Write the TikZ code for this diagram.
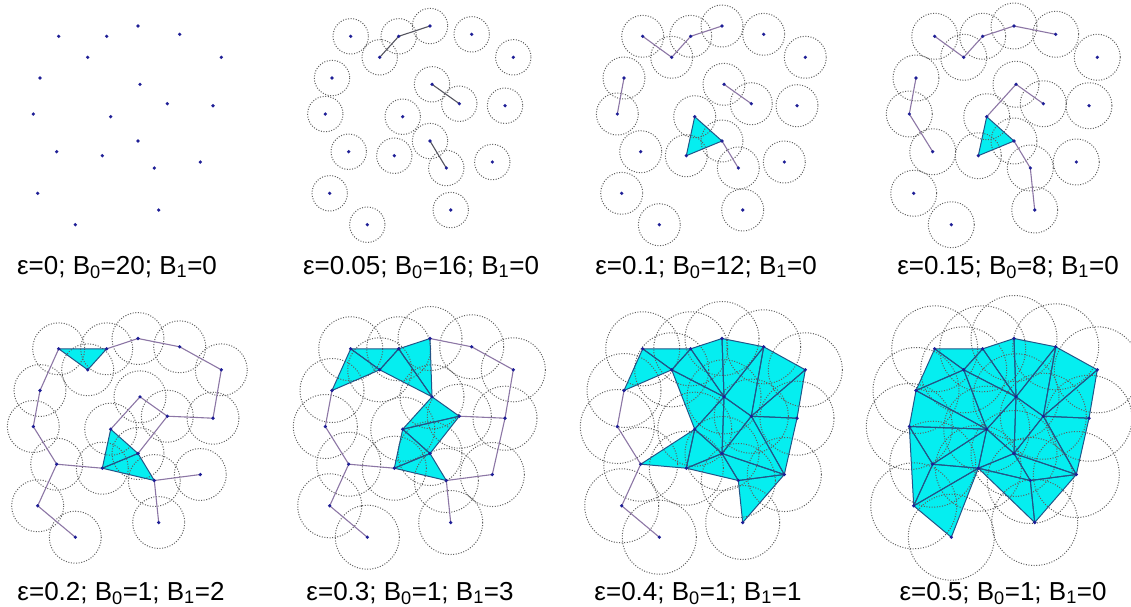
\documentclass[tikz,border=0pt]{standalone}
\usepackage{fontspec}
\setmainfont{Liberation Sans}
\definecolor{dotc}{RGB}{30,30,150}
\definecolor{ringc}{RGB}{95,95,95}
\definecolor{edgec}{RGB}{140,118,165}
\definecolor{edgedark}{RGB}{85,85,95}
\definecolor{cyanfill}{RGB}{5,238,240}
\definecolor{triedgec}{RGB}{35,85,135}
\tikzset{
  ring/.style={draw=ringc, line width=1pt, dash pattern=on 1pt off 1.6pt},
  pedge/.style={draw=edgec, line width=1.1pt},
  dedge/.style={draw=edgedark, line width=1.1pt},
  trifill/.style={fill=cyanfill},
  triedge/.style={draw=triedgec, line width=1pt, line join=round},
  ptdot/.style={fill=dotc},
  lab/.style={anchor=base, inner sep=0pt, font=\fontsize{26}{30}\selectfont}
}
\begin{document}
\begin{tikzpicture}[x=1pt,y=-1pt]
\useasboundingbox (0,0) rectangle (1131,606);
% point coordinates of every panel
\foreach \k/\ox/\oy in {1/0/0,2/292/0,3/584/0,4/876/0,5/0/312.5,6/292/312.5,7/584/312.5,8/876/312.5}{
  \foreach \i/\x/\y in {1/58.7/36.3,2/106.7/36.3,3/138/26,4/179.7/34.3,5/87.7/57.3,
    6/221.3/57.3,7/40/78,8/140/84.3,9/167.3/103.7,10/213/105.7,11/33.3/114,
    12/110.7/116.7,13/138/141,14/56.7/151.7,15/102.3/155.7,16/154.3/168,
    17/200.3/162,18/37.7/193.3,19/158.7/210,20/75.3/224.7}{
    \coordinate (p\k-\i) at (\x+\ox,\y+\oy);
  }
}
% ---------- triangle fills ----------
\foreach \a/\b/\c in {12/13/15}{\fill[trifill] (p3-\a) -- (p3-\b) -- (p3-\c) -- cycle;}
\foreach \a/\b/\c in {12/13/15}{\fill[trifill] (p4-\a) -- (p4-\b) -- (p4-\c) -- cycle;}
\foreach \a/\b/\c in {1/2/5,12/13/15,13/15/16}{\fill[trifill] (p5-\a) -- (p5-\b) -- (p5-\c) -- cycle;}
\foreach \a/\b/\c in {1/5/7,1/2/5,2/5/8,2/3/8,8/9/12,9/12/13,12/13/15,13/15/16}{\fill[trifill] (p6-\a) -- (p6-\b) -- (p6-\c) -- cycle;}
\foreach \a/\b/\c in {1/5/7,1/2/5,2/5/8,2/3/8,3/4/8,4/8/9,4/6/9,6/9/10,9/10/17,8/9/13,8/12/13,5/8/12,12/13/15,13/15/16,12/14/15,13/16/17,9/13/17,16/17/19}{\fill[trifill] (p7-\a) -- (p7-\b) -- (p7-\c) -- cycle;}
\foreach \a/\b/\c in {1/5/7,1/2/5,2/5/8,2/3/8,3/4/8,4/8/9,4/6/9,6/9/10,9/10/17,5/7/12,7/11/12,5/8/12,8/12/13,8/9/13,9/13/17,13/16/17,12/13/15,13/15/16,15/16/19,16/17/19,11/12/14,12/14/15,14/15/18,15/18/20,11/14/18}{\fill[trifill] (p8-\a) -- (p8-\b) -- (p8-\c) -- cycle;}
% ---------- balls ----------
\foreach \k/\r in {2/17.7,3/21,4/23,5/26,6/32,7/37,8/43}{
  \foreach \i in {1,...,20}{\draw[ring] (p\k-\i) circle[radius=\r];}
}
% ---------- triangle edges ----------
\foreach \a/\b/\c in {12/13/15}{\draw[triedge] (p3-\a) -- (p3-\b) -- (p3-\c) -- cycle;}
\foreach \a/\b/\c in {12/13/15}{\draw[triedge] (p4-\a) -- (p4-\b) -- (p4-\c) -- cycle;}
\foreach \a/\b/\c in {1/2/5,12/13/15,13/15/16}{\draw[triedge] (p5-\a) -- (p5-\b) -- (p5-\c) -- cycle;}
\foreach \a/\b/\c in {1/5/7,1/2/5,2/5/8,2/3/8,8/9/12,9/12/13,12/13/15,13/15/16}{\draw[triedge] (p6-\a) -- (p6-\b) -- (p6-\c) -- cycle;}
\foreach \a/\b/\c in {1/5/7,1/2/5,2/5/8,2/3/8,3/4/8,4/8/9,4/6/9,6/9/10,9/10/17,8/9/13,8/12/13,5/8/12,12/13/15,13/15/16,12/14/15,13/16/17,9/13/17,16/17/19}{\draw[triedge] (p7-\a) -- (p7-\b) -- (p7-\c) -- cycle;}
\foreach \a/\b/\c in {1/5/7,1/2/5,2/5/8,2/3/8,3/4/8,4/8/9,4/6/9,6/9/10,9/10/17,5/7/12,7/11/12,5/8/12,8/12/13,8/9/13,9/13/17,13/16/17,12/13/15,13/15/16,15/16/19,16/17/19,11/12/14,12/14/15,14/15/18,15/18/20,11/14/18}{\draw[triedge] (p8-\a) -- (p8-\b) -- (p8-\c) -- cycle;}
% ---------- plain edges ----------
\foreach \a/\b in {5/2,2/3,8/9,13/16}{\draw[dedge] (p2-\a) -- (p2-\b);}
\foreach \a/\b in {1/5,5/2,2/3,7/11,8/9,13/16}{\draw[pedge] (p3-\a) -- (p3-\b);}
\foreach \a/\b in {1/5,5/2,2/3,3/4,7/11,11/14,8/9,8/12,13/16,16/19}{\draw[pedge] (p4-\a) -- (p4-\b);}
\foreach \a/\b in {2/3,3/4,4/6,6/10,10/9,9/8,8/12,9/13,16/17,16/19,15/14,14/11,11/7,7/1,14/18,18/20}{\draw[pedge] (p5-\a) -- (p5-\b);}
\foreach \a/\b in {3/4,4/6,6/10,9/10,10/17,17/16,7/11,11/14,14/15,14/18,18/20,16/19}{\draw[pedge] (p6-\a) -- (p6-\b);}
\foreach \a/\b in {7/11,11/14,14/18,18/20}{\draw[pedge] (p7-\a) -- (p7-\b);}
% ---------- points ----------
\foreach \k in {1,...,8}{
  \foreach \i in {1,...,20}{\fill[ptdot] (p\k-\i) circle[radius=1.8];}
}
% ---------- labels ----------
\node[lab] (lab1) at (117,274) {ε=0; B\textsubscript{0}=20; B\textsubscript{1}=0};
\node[lab] (lab2) at (421,274) {ε=0.05; B\textsubscript{0}=16; B\textsubscript{1}=0};
\node[lab] (lab3) at (706,274) {ε=0.1; B\textsubscript{0}=12; B\textsubscript{1}=0};
\node[lab] (lab4) at (1008,274) {ε=0.15; B\textsubscript{0}=8; B\textsubscript{1}=0};
\node[lab] (lab5) at (121,600) {ε=0.2; B\textsubscript{0}=1; B\textsubscript{1}=2};
\node[lab] (lab6) at (410,600) {ε=0.3; B\textsubscript{0}=1; B\textsubscript{1}=3};
\node[lab] (lab7) at (698,600) {ε=0.4; B\textsubscript{0}=1; B\textsubscript{1}=1};
\node[lab] (lab8) at (1003,600) {ε=0.5; B\textsubscript{0}=1; B\textsubscript{1}=0};
\end{tikzpicture}
\end{document}
